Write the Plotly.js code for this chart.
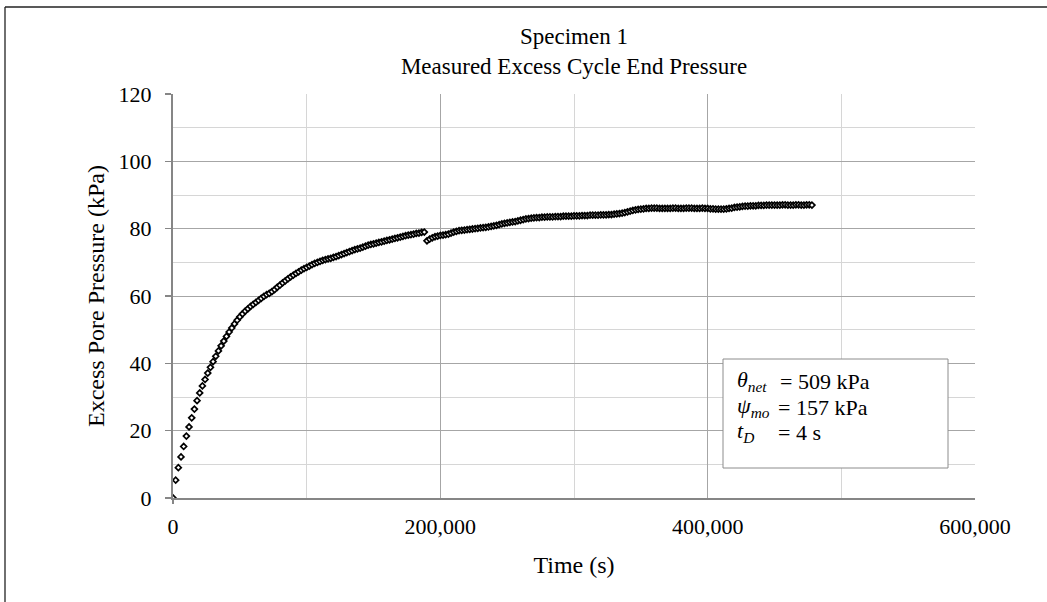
<!DOCTYPE html>
<html>
<head>
<meta charset="utf-8">
<script src="https://cdn.plot.ly/plotly-3.0.1.min.js"></script>
<style>
html,body{margin:0;padding:0;background:#fff;}
#chart{width:1047px;height:602px;}
</style>
</head>
<body>
<div id="chart"></div>
<script>
// Segment 1 (before the gap)
var timeSeg1 = [0,2000,4000,6000,8000,10000,12000,14000,16000,18000,20000,22000,24000,26000,28000,30000,32000,34000,36000,38000,40000,42000,44000,46000,48000,50000,52000,54000,56000,58000,60000,62000,64000,66000,68000,70000,72000,74000,76000,78000,80000,82000,84000,86000,88000,90000,92000,94000,96000,98000,100000,102000,104000,106000,108000,110000,112000,114000,116000,118000,120000,122000,124000,126000,128000,130000,132000,134000,136000,138000,140000,142000,144000,146000,148000,150000,152000,154000,156000,158000,160000,162000,164000,166000,168000,170000,172000,174000,176000,178000,180000,182000,184000,186000,188000];
var pressureSeg1 = [0,5.3,9.0,12.2,15.3,18.4,21.1,23.8,26.4,28.9,31.2,33.3,35.2,37.1,38.8,40.5,42.1,43.7,45.2,46.6,48.0,49.3,50.5,51.7,52.8,53.8,54.7,55.5,56.2,56.9,57.5,58.1,58.7,59.3,59.9,60.4,60.8,61.3,61.9,62.6,63.2,63.9,64.5,65.1,65.7,66.2,66.7,67.2,67.7,68.1,68.5,68.9,69.3,69.7,70.0,70.3,70.6,70.8,71.0,71.2,71.5,71.7,72.0,72.3,72.6,72.9,73.2,73.5,73.8,74.0,74.2,74.5,74.8,75.1,75.3,75.5,75.7,75.9,76.1,76.3,76.5,76.7,76.9,77.1,77.3,77.5,77.7,77.9,78.1,78.2,78.4,78.6,78.7,78.9,79.0];
// Segment 2 (after the gap)
var timeSeg2 = [190000,192000,194000,196000,198000,200000,202000,204000,206000,208000,210000,212000,214000,216000,218000,220000,222000,224000,226000,228000,230000,232000,234000,236000,238000,240000,242000,244000,246000,248000,250000,252000,254000,256000,258000,260000,262000,264000,266000,268000,270000,272000,274000,276000,278000,280000,282000,284000,286000,288000,290000,292000,294000,296000,298000,300000,302000,304000,306000,308000,310000,312000,314000,316000,318000,320000,322000,324000,326000,328000,330000,332000,334000,336000,338000,340000,342000,344000,346000,348000,350000,352000,354000,356000,358000,360000,362000,364000,366000,368000,370000,372000,374000,376000,378000,380000,382000,384000,386000,388000,390000,392000,394000,396000,398000,400000,402000,404000,406000,408000,410000,412000,414000,416000,418000,420000,422000,424000,426000,428000,430000,432000,434000,436000,438000,440000,442000,444000,446000,448000,450000,452000,454000,456000,458000,460000,462000,464000,466000,468000,470000,472000,474000,476000,478000];
var pressureSeg2 = [76.4,76.9,77.3,77.6,77.8,78.0,78.1,78.2,78.4,78.7,79.0,79.2,79.4,79.5,79.6,79.7,79.8,79.9,80.0,80.1,80.2,80.3,80.4,80.5,80.7,80.8,81.0,81.2,81.4,81.6,81.7,81.9,82.0,82.1,82.3,82.5,82.7,82.9,83.0,83.1,83.2,83.3,83.3,83.4,83.4,83.5,83.5,83.5,83.6,83.6,83.6,83.7,83.7,83.7,83.7,83.8,83.8,83.8,83.9,83.9,83.9,84.0,84.0,84.0,84.0,84.1,84.1,84.1,84.2,84.2,84.3,84.4,84.5,84.6,84.8,85.0,85.2,85.4,85.6,85.7,85.8,85.9,86.0,86.0,86.1,86.1,86.1,86.0,86.0,86.0,86.0,86.0,86.1,86.1,86.0,86.0,86.0,86.1,86.1,86.1,86.0,86.0,86.0,86.1,86.0,86.0,85.9,85.9,85.8,85.8,85.8,85.8,85.9,86.0,86.1,86.3,86.4,86.5,86.6,86.7,86.7,86.8,86.8,86.8,86.9,86.9,86.9,87.0,87.0,87.0,87.0,87.0,87.0,87.1,87.1,87.0,87.0,87.0,87.1,87.1,87.0,87.0,87.1,87.1,87.0];

var xTickVals = [0,200000,400000,600000];
var yTickVals = [0,20,40,60,80,100,120];
var titleLines = ["Specimen 1","Measured Excess Cycle End Pressure"];
var xTitle = "Time (s)";
var yTitle = "Excess Pore Pressure (kPa)";
var infoSymbols = ["<i>θ<sub>net</sub></i>","<i>ψ<sub>mo</sub></i>","<i>t<sub>D</sub></i>"];
var infoValues = ["= 509 kPa","= 157 kPa","= 4 s"];

var FONT = "Liberation Serif, Times New Roman, serif";
var markerStyle = {symbol:'diamond', size:4.5, color:'#ffffff', line:{color:'#000000', width:1.7}};

var traces = [
  {x:timeSeg1, y:pressureSeg1, type:'scatter', mode:'markers', marker:markerStyle, showlegend:false, hoverinfo:'x+y'},
  {x:timeSeg2, y:pressureSeg2, type:'scatter', mode:'markers', marker:markerStyle, showlegend:false, hoverinfo:'x+y'}
];

var L = 173, R = 975, T = 94, B = 498, W = 1047, H = 602;
function px(xp){ return (xp - L) / (R - L); }
function py(yp){ return (B - yp) / (B - T); }

var infoY = [381, 407, 432];
var infoEqX = [778, 776, 776];
var annotations = [];
for (var i = 0; i < infoSymbols.length; i++) {
  annotations.push({xref:'paper', yref:'paper', x:px(735), y:py(infoY[i]), xanchor:'left', yanchor:'middle',
    text:infoSymbols[i], showarrow:false, font:{family:FONT, size:22, color:'#000'}});
  annotations.push({xref:'paper', yref:'paper', x:px(infoEqX[i]), y:py(infoY[i]), xanchor:'left', yanchor:'middle',
    text:infoValues[i], showarrow:false, font:{family:FONT, size:22, color:'#000'}});
}

var layout = {
  width:W, height:H,
  margin:{l:L, r:W-R, t:T, b:H-B, pad:0},
  paper_bgcolor:'#ffffff', plot_bgcolor:'#ffffff',
  font:{family:FONT, size:22, color:'#000'},
  title:{text:titleLines.join('<br>'), font:{family:FONT, size:23, color:'#000'}, x:0.5, xref:'paper', xanchor:'center', y:1-44/H, yanchor:'middle', yref:'container'},
  xaxis:{
    range:[0,600000], tickvals:xTickVals, tickformat:',', showgrid:true, gridcolor:'#a6a6a6', gridwidth:1,
    minor:{dtick:100000, showgrid:true, gridcolor:'#d6d6d6', gridwidth:1, ticks:''},
    showline:true, linecolor:'#868686', linewidth:2, ticks:'outside', ticklen:5, tickcolor:'rgba(0,0,0,0)', tickwidth:1,
    ticklabelstandoff:3,
    zeroline:false, tickfont:{family:FONT, size:22, color:'#000'},
    title:{text:xTitle, font:{family:FONT, size:24, color:'#000'}, standoff:18}
  },
  yaxis:{
    range:[0,120], tickvals:yTickVals, showgrid:true, gridcolor:'#a6a6a6', gridwidth:1,
    minor:{dtick:10, showgrid:true, gridcolor:'#d6d6d6', gridwidth:1, ticks:''},
    showline:true, linecolor:'#868686', linewidth:2, ticks:'outside', ticklen:6, tickcolor:'#868686', tickwidth:1.5,
    ticklabelstandoff:9,
    zeroline:false, tickfont:{family:FONT, size:22, color:'#000'},
    title:{text:yTitle, font:{family:FONT, size:24, color:'#000'}, standoff:7}
  },
  shapes:[
    {type:'rect', xref:'paper', yref:'paper', x0:px(723), x1:px(948), y0:py(468), y1:py(359),
     line:{color:'#8c8c8c', width:1}, fillcolor:'#ffffff', layer:'above'},
    {type:'line', xref:'paper', yref:'paper', x0:0, x1:0, y0:0, y1:py(504), line:{color:'#868686', width:2}},
    {type:'line', xref:'paper', yref:'paper', x0:px(5), x1:px(1100), y0:py(7), y1:py(7), line:{color:'#222', width:1.3}},
    {type:'line', xref:'paper', yref:'paper', x0:px(5), x1:px(5), y0:py(7), y1:py(700), line:{color:'#222', width:1.3}}
  ],
  annotations:annotations
};

Plotly.newPlot('chart', traces, layout, {displayModeBar:false, staticPlot:true});
</script>
</body>
</html>
